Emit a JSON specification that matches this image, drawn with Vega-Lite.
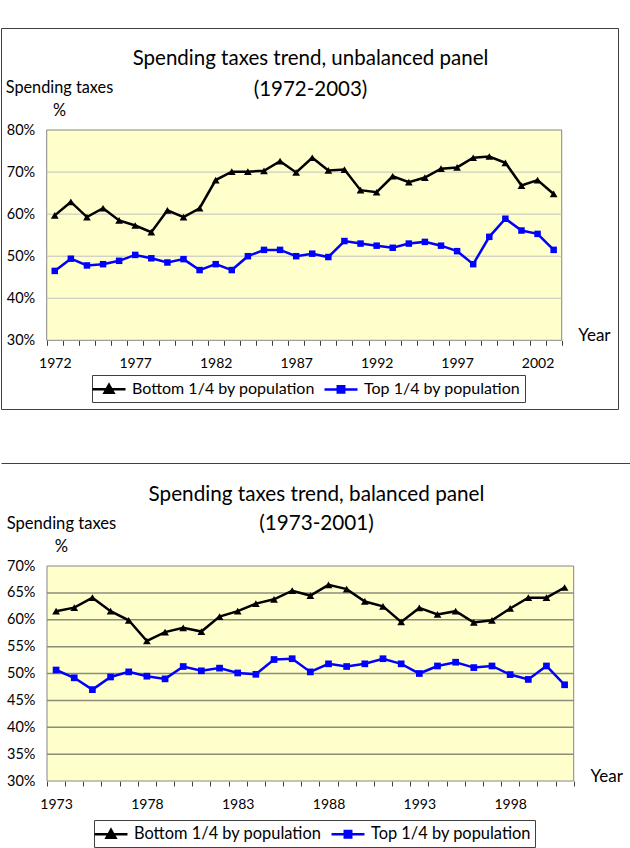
{
  "$schema": "https://vega.github.io/schema/vega-lite/v6.json",
  "background": "white",
  "padding": {"left": 0, "top": 27, "right": 0, "bottom": 0},
  "spacing": 53,
  "config": {
    "font": "Lato",
    "axis": {"labelFlush": false, "labelOverlap": false, "labelBound": false, "zindex": 1, "labelColor": "black", "titleColor": "black", "titleFontWeight": "normal"}
  },
  "resolve": {"scale": {"color": "independent"}, "legend": {"color": "independent"}},
  "datasets": {
    "top": [
      {"year": 1972, "series": "Bottom 1/4 by population", "value": 59.7},
      {"year": 1973, "series": "Bottom 1/4 by population", "value": 62.9},
      {"year": 1974, "series": "Bottom 1/4 by population", "value": 59.3},
      {"year": 1975, "series": "Bottom 1/4 by population", "value": 61.4},
      {"year": 1976, "series": "Bottom 1/4 by population", "value": 58.5},
      {"year": 1977, "series": "Bottom 1/4 by population", "value": 57.3},
      {"year": 1978, "series": "Bottom 1/4 by population", "value": 55.7},
      {"year": 1979, "series": "Bottom 1/4 by population", "value": 60.9},
      {"year": 1980, "series": "Bottom 1/4 by population", "value": 59.3},
      {"year": 1981, "series": "Bottom 1/4 by population", "value": 61.4},
      {"year": 1982, "series": "Bottom 1/4 by population", "value": 68.1},
      {"year": 1983, "series": "Bottom 1/4 by population", "value": 70.1},
      {"year": 1984, "series": "Bottom 1/4 by population", "value": 70.1},
      {"year": 1985, "series": "Bottom 1/4 by population", "value": 70.3},
      {"year": 1986, "series": "Bottom 1/4 by population", "value": 72.6},
      {"year": 1987, "series": "Bottom 1/4 by population", "value": 69.9},
      {"year": 1988, "series": "Bottom 1/4 by population", "value": 73.4},
      {"year": 1989, "series": "Bottom 1/4 by population", "value": 70.4},
      {"year": 1990, "series": "Bottom 1/4 by population", "value": 70.6},
      {"year": 1991, "series": "Bottom 1/4 by population", "value": 65.7},
      {"year": 1992, "series": "Bottom 1/4 by population", "value": 65.2},
      {"year": 1993, "series": "Bottom 1/4 by population", "value": 69.0},
      {"year": 1994, "series": "Bottom 1/4 by population", "value": 67.6},
      {"year": 1995, "series": "Bottom 1/4 by population", "value": 68.7},
      {"year": 1996, "series": "Bottom 1/4 by population", "value": 70.8},
      {"year": 1997, "series": "Bottom 1/4 by population", "value": 71.1},
      {"year": 1998, "series": "Bottom 1/4 by population", "value": 73.4},
      {"year": 1999, "series": "Bottom 1/4 by population", "value": 73.7},
      {"year": 2000, "series": "Bottom 1/4 by population", "value": 72.2},
      {"year": 2001, "series": "Bottom 1/4 by population", "value": 66.8},
      {"year": 2002, "series": "Bottom 1/4 by population", "value": 68.1},
      {"year": 2003, "series": "Bottom 1/4 by population", "value": 64.8},
      {"year": 1972, "series": "Top 1/4 by population", "value": 46.5},
      {"year": 1973, "series": "Top 1/4 by population", "value": 49.4},
      {"year": 1974, "series": "Top 1/4 by population", "value": 47.8},
      {"year": 1975, "series": "Top 1/4 by population", "value": 48.1},
      {"year": 1976, "series": "Top 1/4 by population", "value": 48.9},
      {"year": 1977, "series": "Top 1/4 by population", "value": 50.3},
      {"year": 1978, "series": "Top 1/4 by population", "value": 49.5},
      {"year": 1979, "series": "Top 1/4 by population", "value": 48.5},
      {"year": 1980, "series": "Top 1/4 by population", "value": 49.3},
      {"year": 1981, "series": "Top 1/4 by population", "value": 46.7},
      {"year": 1982, "series": "Top 1/4 by population", "value": 48.1},
      {"year": 1983, "series": "Top 1/4 by population", "value": 46.7},
      {"year": 1984, "series": "Top 1/4 by population", "value": 50.0},
      {"year": 1985, "series": "Top 1/4 by population", "value": 51.5},
      {"year": 1986, "series": "Top 1/4 by population", "value": 51.5},
      {"year": 1987, "series": "Top 1/4 by population", "value": 50.0},
      {"year": 1988, "series": "Top 1/4 by population", "value": 50.6},
      {"year": 1989, "series": "Top 1/4 by population", "value": 49.8},
      {"year": 1990, "series": "Top 1/4 by population", "value": 53.6},
      {"year": 1991, "series": "Top 1/4 by population", "value": 53.0},
      {"year": 1992, "series": "Top 1/4 by population", "value": 52.5},
      {"year": 1993, "series": "Top 1/4 by population", "value": 52.0},
      {"year": 1994, "series": "Top 1/4 by population", "value": 53.0},
      {"year": 1995, "series": "Top 1/4 by population", "value": 53.4},
      {"year": 1996, "series": "Top 1/4 by population", "value": 52.5},
      {"year": 1997, "series": "Top 1/4 by population", "value": 51.2},
      {"year": 1998, "series": "Top 1/4 by population", "value": 48.1},
      {"year": 1999, "series": "Top 1/4 by population", "value": 54.6},
      {"year": 2000, "series": "Top 1/4 by population", "value": 58.9},
      {"year": 2001, "series": "Top 1/4 by population", "value": 56.1},
      {"year": 2002, "series": "Top 1/4 by population", "value": 55.3},
      {"year": 2003, "series": "Top 1/4 by population", "value": 51.5}
    ],
    "bottom": [
      {"year": 1973, "series": "Bottom 1/4 by population", "value": 61.6},
      {"year": 1974, "series": "Bottom 1/4 by population", "value": 62.25},
      {"year": 1975, "series": "Bottom 1/4 by population", "value": 64.1},
      {"year": 1976, "series": "Bottom 1/4 by population", "value": 61.6},
      {"year": 1977, "series": "Bottom 1/4 by population", "value": 59.9},
      {"year": 1978, "series": "Bottom 1/4 by population", "value": 56.05},
      {"year": 1979, "series": "Bottom 1/4 by population", "value": 57.7},
      {"year": 1980, "series": "Bottom 1/4 by population", "value": 58.5},
      {"year": 1981, "series": "Bottom 1/4 by population", "value": 57.8},
      {"year": 1982, "series": "Bottom 1/4 by population", "value": 60.6},
      {"year": 1983, "series": "Bottom 1/4 by population", "value": 61.6},
      {"year": 1984, "series": "Bottom 1/4 by population", "value": 63.0},
      {"year": 1985, "series": "Bottom 1/4 by population", "value": 63.8},
      {"year": 1986, "series": "Bottom 1/4 by population", "value": 65.4},
      {"year": 1987, "series": "Bottom 1/4 by population", "value": 64.5},
      {"year": 1988, "series": "Bottom 1/4 by population", "value": 66.5},
      {"year": 1989, "series": "Bottom 1/4 by population", "value": 65.7},
      {"year": 1990, "series": "Bottom 1/4 by population", "value": 63.4},
      {"year": 1991, "series": "Bottom 1/4 by population", "value": 62.5},
      {"year": 1992, "series": "Bottom 1/4 by population", "value": 59.6},
      {"year": 1993, "series": "Bottom 1/4 by population", "value": 62.2},
      {"year": 1994, "series": "Bottom 1/4 by population", "value": 61.0},
      {"year": 1995, "series": "Bottom 1/4 by population", "value": 61.6},
      {"year": 1996, "series": "Bottom 1/4 by population", "value": 59.5},
      {"year": 1997, "series": "Bottom 1/4 by population", "value": 59.9},
      {"year": 1998, "series": "Bottom 1/4 by population", "value": 62.1},
      {"year": 1999, "series": "Bottom 1/4 by population", "value": 64.1},
      {"year": 2000, "series": "Bottom 1/4 by population", "value": 64.1},
      {"year": 2001, "series": "Bottom 1/4 by population", "value": 66.0},
      {"year": 1973, "series": "Top 1/4 by population", "value": 50.65},
      {"year": 1974, "series": "Top 1/4 by population", "value": 49.2},
      {"year": 1975, "series": "Top 1/4 by population", "value": 47.0},
      {"year": 1976, "series": "Top 1/4 by population", "value": 49.35},
      {"year": 1977, "series": "Top 1/4 by population", "value": 50.3},
      {"year": 1978, "series": "Top 1/4 by population", "value": 49.5},
      {"year": 1979, "series": "Top 1/4 by population", "value": 49.0},
      {"year": 1980, "series": "Top 1/4 by population", "value": 51.3},
      {"year": 1981, "series": "Top 1/4 by population", "value": 50.5},
      {"year": 1982, "series": "Top 1/4 by population", "value": 51.0},
      {"year": 1983, "series": "Top 1/4 by population", "value": 50.1},
      {"year": 1984, "series": "Top 1/4 by population", "value": 49.85},
      {"year": 1985, "series": "Top 1/4 by population", "value": 52.6},
      {"year": 1986, "series": "Top 1/4 by population", "value": 52.75},
      {"year": 1987, "series": "Top 1/4 by population", "value": 50.3},
      {"year": 1988, "series": "Top 1/4 by population", "value": 51.8},
      {"year": 1989, "series": "Top 1/4 by population", "value": 51.3},
      {"year": 1990, "series": "Top 1/4 by population", "value": 51.8},
      {"year": 1991, "series": "Top 1/4 by population", "value": 52.75},
      {"year": 1992, "series": "Top 1/4 by population", "value": 51.8},
      {"year": 1993, "series": "Top 1/4 by population", "value": 50.0},
      {"year": 1994, "series": "Top 1/4 by population", "value": 51.4},
      {"year": 1995, "series": "Top 1/4 by population", "value": 52.1},
      {"year": 1996, "series": "Top 1/4 by population", "value": 51.1},
      {"year": 1997, "series": "Top 1/4 by population", "value": 51.4},
      {"year": 1998, "series": "Top 1/4 by population", "value": 49.8},
      {"year": 1999, "series": "Top 1/4 by population", "value": 48.9},
      {"year": 2000, "series": "Top 1/4 by population", "value": 51.4},
      {"year": 2001, "series": "Top 1/4 by population", "value": 47.9}
    ]
  },
  "vconcat": [
    {
      "width": 617,
      "height": 381,
      "view": {"stroke": "#404040", "strokeWidth": 1, "fill": "white"},
      "resolve": {"axis": {"x": "independent", "y": "independent"}},
      "layer": [
        {
          "data": {"values": [{}]},
          "mark": {"type": "rect", "fill": "#FFFFCC", "stroke": "#868686", "strokeWidth": 1},
          "encoding": {
            "x": {"datum": 1971.5, "type": "quantitative",
              "scale": {"domain": [1968.66, 2006.998], "nice": false, "zero": false},
              "axis": {"orient": "bottom", "offset": -68.7, "values": [1972, 1977, 1982, 1987, 1992, 1997, 2002], "format": "d",
                "ticks": false, "tickSize": 0, "domain": false, "grid": false, "labelPadding": 16, "labelFontSize": 14,
                "title": "Year", "titleX": 576.7, "titleY": 0.4, "titleAlign": "left", "titleBaseline": "alphabetic", "titleAngle": 0, "titleFontSize": 17}},
            "x2": {"datum": 2003.5},
            "y": {"datum": 30, "type": "quantitative",
              "scale": {"domain": [13.67, 104.25], "nice": false, "zero": false},
              "axis": {"orient": "left", "offset": -45.7, "values": [30, 40, 50, 60, 70, 80], "labelExpr": "datum.value + '%'",
                "ticks": false, "tickSize": 0, "domain": false, "grid": false, "labelPadding": 12, "labelFontSize": 14.5,
                "title": ["Spending taxes", "%"], "titleAngle": 0, "titleAlign": "center", "titleBaseline": "alphabetic",
                "titleX": 12.3, "titleY": 64.7, "titleFontSize": 16.3, "titleLineHeight": 23}},
            "y2": {"datum": 80}
          }
        },
        {
          "data": {"values": [{"v": 40}, {"v": 50}, {"v": 60}, {"v": 70}]},
          "mark": {"type": "rule", "stroke": "#C0C0C0", "strokeWidth": 1},
          "encoding": {
            "x": {"datum": 1971.5, "type": "quantitative",
              "scale": {"domain": [1968.66, 2006.998], "nice": false, "zero": false},
              "axis": {"orient": "bottom", "offset": -68.7,
                "values": [1971.5, 1972.5, 1973.5, 1974.5, 1975.5, 1976.5, 1977.5, 1978.5, 1979.5, 1980.5, 1981.5, 1982.5, 1983.5, 1984.5, 1985.5, 1986.5, 1987.5, 1988.5, 1989.5, 1990.5, 1991.5, 1992.5, 1993.5, 1994.5, 1995.5, 1996.5, 1997.5, 1998.5, 1999.5, 2000.5, 2001.5, 2002.5, 2003.5],
                "labels": false, "ticks": true, "tickSize": 5, "tickColor": "#404040", "tickWidth": 1, "domain": false, "grid": false, "title": null}},
            "x2": {"datum": 2003.5},
            "y": {"field": "v", "type": "quantitative", "scale": {"domain": [13.67, 104.25], "nice": false, "zero": false}, "axis": null}
          }
        },
        {
          "data": {"name": "top"},
          "mark": {"type": "line", "strokeWidth": 2.5},
          "encoding": {
            "x": {"field": "year", "type": "quantitative",
              "scale": {"domain": [1968.66, 2006.998], "nice": false, "zero": false},
              "axis": {"orient": "top", "offset": 0, "labels": false, "ticks": false, "domain": false, "grid": false,
                "title": ["Spending taxes trend, unbalanced panel", "(1972-2003)"],
                "titleX": 309, "titleY": 36.3, "titleAlign": "center", "titleBaseline": "alphabetic", "titleAngle": 0,
                "titleFontSize": 20.5, "titleLineHeight": 31}},
            "y": {"field": "value", "type": "quantitative", "scale": {"domain": [13.67, 104.25], "nice": false, "zero": false}, "axis": null},
            "color": {"field": "series", "type": "nominal",
              "scale": {"domain": ["Bottom 1/4 by population", "Top 1/4 by population"], "range": ["#000000", "#0000FF"]},
              "legend": {"orient": "none", "legendX": 91, "legendY": 347, "direction": "horizontal", "title": null,
                "strokeColor": "#404040", "fillColor": "white", "padding": 4, "symbolSize": 289, "symbolStrokeWidth": 2.5,
                "symbolOffset": 3, "labelFontSize": 16, "labelColor": "black", "labelLimit": 400, "labelOffset": 13, "columnPadding": 4,
                "encode": {"symbols": {"update": {
                  "shape": {"signal": "datum.value === 'Bottom 1/4 by population' ? 'M-1.94,0H1.94M0,-0.52L0.52,0.4L-0.52,0.4Z' : 'M-1.94,0H1.94M-0.38,-0.38H0.38V0.38H-0.38Z'"},
                  "fill": {"signal": "datum.value === 'Bottom 1/4 by population' ? '#000000' : '#0000FF'"},
                  "stroke": {"signal": "datum.value === 'Bottom 1/4 by population' ? '#000000' : '#0000FF'"},
                  "strokeWidth": {"value": 2.5},
                  "opacity": {"value": 1}
                }}}}}
          }
        },
        {
          "data": {"name": "top"},
          "transform": [{"filter": "datum.series === 'Bottom 1/4 by population'"}],
          "mark": {"type": "point", "filled": true, "opacity": 1, "shape": "triangle-up", "size": 60, "color": "#000000"},
          "encoding": {
            "x": {"field": "year", "type": "quantitative", "scale": {"domain": [1968.66, 2006.998], "nice": false, "zero": false}, "axis": null},
            "y": {"field": "value", "type": "quantitative", "scale": {"domain": [13.67, 104.25], "nice": false, "zero": false}, "axis": null}
          }
        },
        {
          "data": {"name": "top"},
          "transform": [{"filter": "datum.series === 'Top 1/4 by population'"}],
          "mark": {"type": "point", "filled": true, "opacity": 1, "shape": "square", "size": 42, "color": "#0000FF"},
          "encoding": {
            "x": {"field": "year", "type": "quantitative", "scale": {"domain": [1968.66, 2006.998], "nice": false, "zero": false}, "axis": null},
            "y": {"field": "value", "type": "quantitative", "scale": {"domain": [13.67, 104.25], "nice": false, "zero": false}, "axis": null}
          }
        }
      ]
    },
    {
      "width": 629,
      "height": 385,
      "view": {"stroke": null, "fill": "white"},
      "resolve": {"axis": {"x": "independent", "y": "independent"}},
      "layer": [
        {
          "data": {"values": [{}]},
          "mark": {"type": "rect", "fill": "#FFFFCC", "stroke": "#868686", "strokeWidth": 1},
          "encoding": {
            "x": {"datum": 1972.5, "type": "quantitative",
              "scale": {"domain": [1969.967, 2004.6], "nice": false, "zero": false},
              "axis": {"orient": "bottom", "offset": -67, "values": [1973, 1978, 1983, 1988, 1993, 1998], "format": "d",
                "ticks": false, "tickSize": 0, "domain": false, "grid": false, "labelPadding": 16, "labelFontSize": 14,
                "title": "Year", "titleX": 589, "titleY": 0, "titleAlign": "left", "titleBaseline": "alphabetic", "titleAngle": 0, "titleFontSize": 17}},
            "x2": {"datum": 2001.5},
            "y": {"datum": 30, "type": "quantitative",
              "scale": {"domain": [17.535, 89.163], "nice": false, "zero": false},
              "axis": {"orient": "left", "offset": -46, "values": [30, 35, 40, 45, 50, 55, 60, 65, 70], "labelExpr": "datum.value + '%'",
                "ticks": false, "tickSize": 0, "domain": false, "grid": false, "labelPadding": 12, "labelFontSize": 14.5,
                "title": ["Spending taxes", "%"], "titleAngle": 0, "titleAlign": "center", "titleBaseline": "alphabetic",
                "titleX": 14, "titleY": 65.3, "titleFontSize": 16.6, "titleLineHeight": 23}},
            "y2": {"datum": 70}
          }
        },
        {
          "data": {"values": [{"v": 35}, {"v": 40}, {"v": 45}, {"v": 50}, {"v": 55}, {"v": 60}, {"v": 65}]},
          "mark": {"type": "rule", "stroke": "#8C8C78", "strokeWidth": 1.5},
          "encoding": {
            "x": {"datum": 1972.5, "type": "quantitative",
              "scale": {"domain": [1969.967, 2004.6], "nice": false, "zero": false},
              "axis": {"orient": "bottom", "offset": -67,
                "values": [1972.5, 1973.5, 1974.5, 1975.5, 1976.5, 1977.5, 1978.5, 1979.5, 1980.5, 1981.5, 1982.5, 1983.5, 1984.5, 1985.5, 1986.5, 1987.5, 1988.5, 1989.5, 1990.5, 1991.5, 1992.5, 1993.5, 1994.5, 1995.5, 1996.5, 1997.5, 1998.5, 1999.5, 2000.5, 2001.5],
                "labels": false, "ticks": true, "tickSize": 5, "tickColor": "#404040", "tickWidth": 1, "domain": false, "grid": false, "title": null}},
            "x2": {"datum": 2001.5},
            "y": {"field": "v", "type": "quantitative", "scale": {"domain": [17.535, 89.163], "nice": false, "zero": false}, "axis": null}
          }
        },
        {
          "data": {"name": "bottom"},
          "mark": {"type": "line", "strokeWidth": 2.5},
          "encoding": {
            "x": {"field": "year", "type": "quantitative",
              "scale": {"domain": [1969.967, 2004.6], "nice": false, "zero": false},
              "axis": {"orient": "top", "offset": 0, "labels": false, "ticks": false, "domain": true, "domainColor": "#404040", "domainWidth": 1, "grid": false,
                "title": ["Spending taxes trend, balanced panel", "(1973-2001)"],
                "titleX": 315, "titleY": 37, "titleAlign": "center", "titleBaseline": "alphabetic", "titleAngle": 0,
                "titleFontSize": 20.7, "titleLineHeight": 29}},
            "y": {"field": "value", "type": "quantitative", "scale": {"domain": [17.535, 89.163], "nice": false, "zero": false}, "axis": null},
            "color": {"field": "series", "type": "nominal",
              "scale": {"domain": ["Bottom 1/4 by population", "Top 1/4 by population"], "range": ["#000000", "#0000FF"]},
              "legend": {"orient": "none", "legendX": 93, "legendY": 357, "direction": "horizontal", "title": null,
                "strokeColor": "#404040", "fillColor": "white", "padding": 4, "symbolSize": 289, "symbolStrokeWidth": 2.5,
                "symbolOffset": 3, "labelFontSize": 16.4, "labelColor": "black", "labelLimit": 400, "labelOffset": 13, "columnPadding": 4,
                "encode": {"symbols": {"update": {
                  "shape": {"signal": "datum.value === 'Bottom 1/4 by population' ? 'M-1.94,0H1.94M0,-0.52L0.52,0.4L-0.52,0.4Z' : 'M-1.94,0H1.94M-0.38,-0.38H0.38V0.38H-0.38Z'"},
                  "fill": {"signal": "datum.value === 'Bottom 1/4 by population' ? '#000000' : '#0000FF'"},
                  "stroke": {"signal": "datum.value === 'Bottom 1/4 by population' ? '#000000' : '#0000FF'"},
                  "strokeWidth": {"value": 2.5},
                  "opacity": {"value": 1}
                }}}}}
          }
        },
        {
          "data": {"name": "bottom"},
          "transform": [{"filter": "datum.series === 'Bottom 1/4 by population'"}],
          "mark": {"type": "point", "filled": true, "opacity": 1, "shape": "triangle-up", "size": 60, "color": "#000000"},
          "encoding": {
            "x": {"field": "year", "type": "quantitative", "scale": {"domain": [1969.967, 2004.6], "nice": false, "zero": false}, "axis": null},
            "y": {"field": "value", "type": "quantitative", "scale": {"domain": [17.535, 89.163], "nice": false, "zero": false}, "axis": null}
          }
        },
        {
          "data": {"name": "bottom"},
          "transform": [{"filter": "datum.series === 'Top 1/4 by population'"}],
          "mark": {"type": "point", "filled": true, "opacity": 1, "shape": "square", "size": 45, "color": "#0000FF"},
          "encoding": {
            "x": {"field": "year", "type": "quantitative", "scale": {"domain": [1969.967, 2004.6], "nice": false, "zero": false}, "axis": null},
            "y": {"field": "value", "type": "quantitative", "scale": {"domain": [17.535, 89.163], "nice": false, "zero": false}, "axis": null}
          }
        }
      ]
    }
  ]
}
